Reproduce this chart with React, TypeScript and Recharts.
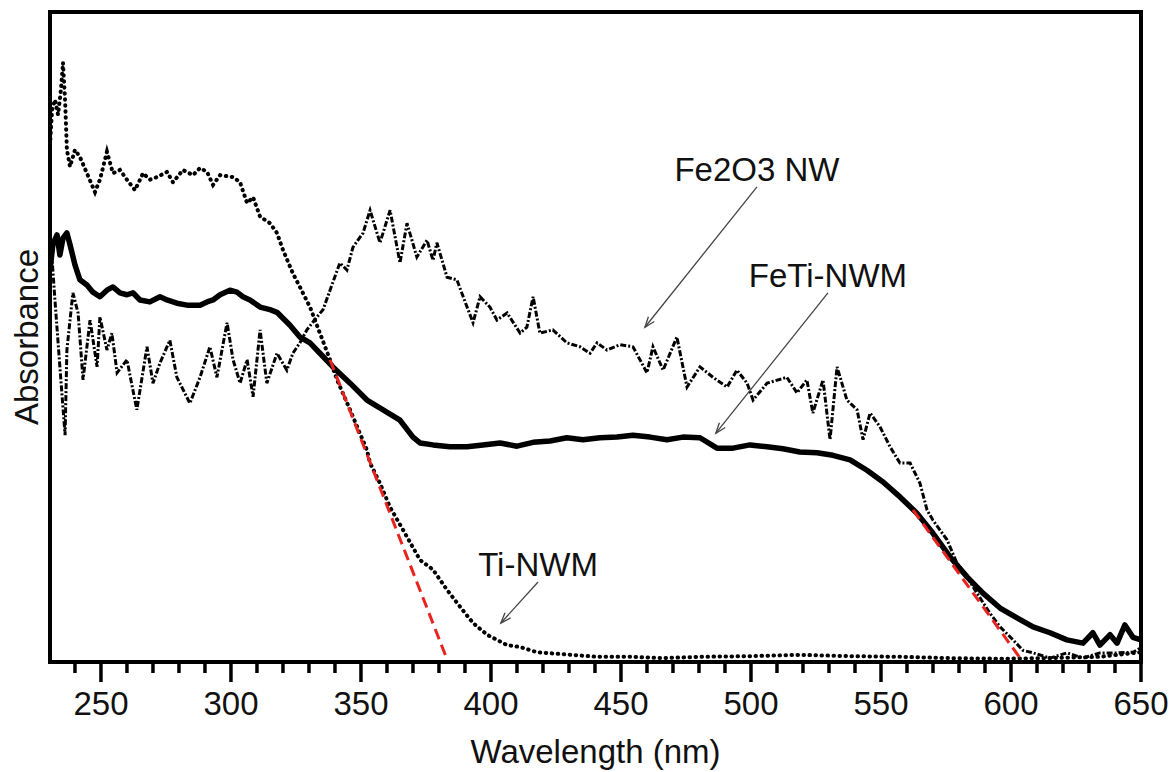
import { LineChart, Line, XAxis, YAxis, ReferenceLine } from "recharts";

const FONT = '"Liberation Sans", Arial, Helvetica, sans-serif';

// [wavelength nm, absorbance a.u.]
const tiNwm: [number, number][] = [
  [230.4, 0.795], [231.2, 0.849], [232.3, 0.865], [233.5, 0.842], [234.6, 0.88], [235.4, 0.922],
  [236.2, 0.865], [236.9, 0.788], [238.1, 0.762], [240, 0.788], [241.9, 0.777], [244.6, 0.752],
  [247.7, 0.723], [249.6, 0.742], [252.3, 0.785], [254.6, 0.752], [257.3, 0.757], [260, 0.742],
  [263.1, 0.726], [266.2, 0.752], [268.8, 0.742], [271.5, 0.746], [275.4, 0.754], [277.7, 0.738],
  [281.5, 0.757], [285.4, 0.749], [288.1, 0.76], [290.8, 0.754], [293.1, 0.734], [295.8, 0.749],
  [300.8, 0.746], [303.5, 0.738], [306.2, 0.706], [308.5, 0.715], [311.2, 0.685], [315, 0.675],
  [317.7, 0.66], [320, 0.634], [323.8, 0.598], [326.5, 0.577], [330.4, 0.546], [334.2, 0.506],
  [338.1, 0.465], [340.8, 0.434], [345.8, 0.388], [352.3, 0.326], [353.5, 0.306], [357.3, 0.275],
  [361.2, 0.238], [366.2, 0.203], [372.7, 0.157], [377.7, 0.142], [383.1, 0.111], [388.1, 0.085],
  [393.1, 0.06], [398.5, 0.042], [406.2, 0.026], [411.2, 0.023], [417.7, 0.015], [427.7, 0.012],
  [440.8, 0.008], [453.5, 0.008], [466.2, 0.006], [480.4, 0.008], [499.6, 0.009], [518.8, 0.011],
  [538.1, 0.009], [557.3, 0.008], [576.5, 0.006], [595.8, 0.005], [615, 0.006], [634.2, 0.008],
  [650, 0.015],
];

const fe2o3Nw: [number, number][] = [
  [230.4, 0.665], [232.3, 0.557], [234.2, 0.454], [236.2, 0.349], [236.9, 0.48], [239.2, 0.568],
  [241.2, 0.537], [243.1, 0.434], [245.8, 0.526], [248.5, 0.454], [249.6, 0.531], [252.3, 0.48],
  [254.2, 0.506], [256.2, 0.445], [260, 0.465], [262.3, 0.418], [263.8, 0.388], [267.7, 0.485],
  [270, 0.429], [272.7, 0.46], [276.5, 0.495], [279.2, 0.438], [284.2, 0.398], [288.1, 0.438],
  [291.9, 0.485], [294.6, 0.438], [298.5, 0.522], [300.8, 0.465], [303.5, 0.429], [306.2, 0.465],
  [308.5, 0.408], [311.2, 0.511], [313.8, 0.429], [317.7, 0.475], [321.5, 0.449], [323.8, 0.475],
  [326.5, 0.491], [329.2, 0.511], [333.1, 0.531], [335.4, 0.542], [338.1, 0.572], [341.9, 0.614],
  [344.6, 0.603], [346.9, 0.638], [350.8, 0.66], [353.5, 0.695], [357.3, 0.645], [361.2, 0.695],
  [365, 0.614], [367.7, 0.675], [371.5, 0.623], [375.4, 0.649], [377.7, 0.618], [379.2, 0.645],
  [383.1, 0.592], [386.9, 0.588], [390.8, 0.546], [393.1, 0.522], [395.8, 0.562], [399.6, 0.546],
  [402.3, 0.526], [406.2, 0.537], [411.2, 0.506], [413.8, 0.515], [416.2, 0.562], [418.8, 0.506],
  [423.8, 0.511], [429.2, 0.491], [434.2, 0.485], [438.1, 0.475], [440.8, 0.491], [444.6, 0.48],
  [449.6, 0.488], [454.6, 0.485], [457.3, 0.465], [460, 0.445], [462.3, 0.485], [466.2, 0.449],
  [471.5, 0.5], [475.4, 0.423], [480.4, 0.454], [485.4, 0.438], [490.8, 0.423], [494.6, 0.449],
  [498.5, 0.429], [500.8, 0.403], [506.2, 0.429], [513.8, 0.438], [517.7, 0.414], [521.5, 0.434],
  [523.8, 0.383], [527.7, 0.434], [530.4, 0.342], [533.1, 0.454], [536.9, 0.403], [540.8, 0.388],
  [543.1, 0.342], [545.8, 0.383], [549.6, 0.362], [553.5, 0.331], [557.3, 0.306], [561.2, 0.306],
  [565, 0.275], [567.7, 0.234], [570, 0.218], [575.4, 0.188], [579.2, 0.152], [583.1, 0.131],
  [586.9, 0.106], [591.9, 0.075], [595.8, 0.054], [600.8, 0.034], [604.6, 0.018], [608.5, 0.014],
  [615, 0.006], [621.5, 0.014], [627.7, 0.006], [634.2, 0.014], [640.8, 0.014], [646.9, 0.015],
  [650, 0.022],
];

const feTiNwm: [number, number][] = [
  [230.4, 0.603], [231.5, 0.642], [233.1, 0.657], [234.2, 0.626], [235.4, 0.652], [236.9, 0.66],
  [238.1, 0.642], [240, 0.611], [241.9, 0.588], [244.6, 0.58], [246.9, 0.569], [249.6, 0.562],
  [252.3, 0.572], [254.6, 0.577], [257.3, 0.568], [260, 0.565], [262.3, 0.568], [265, 0.557],
  [268.8, 0.554], [272.7, 0.562], [275.4, 0.557], [279.2, 0.552], [283.1, 0.549], [288.1, 0.549],
  [290.8, 0.554], [293.1, 0.557], [295.8, 0.565], [299.6, 0.572], [302.3, 0.569], [304.6, 0.562],
  [307.3, 0.557], [311.2, 0.546], [315, 0.542], [317.7, 0.538], [322.7, 0.518], [326.5, 0.5],
  [330.4, 0.491], [334.2, 0.475], [339.2, 0.454], [345.8, 0.429], [352.3, 0.403], [358.5, 0.388],
  [365, 0.372], [370, 0.346], [372.7, 0.337], [377.7, 0.334], [384.2, 0.331], [390.8, 0.331],
  [396.9, 0.334], [403.5, 0.337], [410, 0.332], [416.2, 0.338], [422.7, 0.34], [429.2, 0.345],
  [435.4, 0.342], [441.9, 0.345], [448.5, 0.346], [454.6, 0.349], [461.2, 0.346], [467.7, 0.342],
  [473.8, 0.346], [480.4, 0.345], [486.9, 0.329], [493.1, 0.329], [499.6, 0.334], [506.2, 0.331],
  [512.3, 0.328], [518.8, 0.323], [525.4, 0.322], [531.5, 0.318], [538.1, 0.311], [544.6, 0.295],
  [550.8, 0.277], [557.3, 0.254], [563.8, 0.229], [570, 0.198], [576.5, 0.162], [583.1, 0.131],
  [589.2, 0.106], [595.8, 0.083], [602.3, 0.068], [608.5, 0.054], [615, 0.045], [621.5, 0.034],
  [627.7, 0.029], [631.5, 0.045], [634.2, 0.026], [638.1, 0.042], [640.8, 0.029], [643.8, 0.057],
  [646.9, 0.038], [650, 0.034],
];

// band-edge tangent lines (red dashed)
const edgeFits: [number, number][][] = [
  [[338.1, 0.465], [383.5, 0]],
  [[562.3, 0.234], [604.6, 0]],
];

// annotation text, arrow start, arrow tip
const notes: { text: string; from: [number, number]; to: [number, number] }[] = [
  { text: "Fe2O3 NW", from: [502.3, 0.731], to: [459.2, 0.515] },
  { text: "FeTi-NWM", from: [529.6, 0.568], to: [486.5, 0.352] },
  { text: "Ti-NWM", from: [418.1, 0.123], to: [403.8, 0.06] },
];

const xTicks = [240, 250, 260, 270, 280, 290, 300, 310, 320, 330, 340, 350, 360, 370, 380, 390, 400,
  410, 420, 430, 440, 450, 460, 470, 480, 490, 500, 510, 520, 530, 540, 550, 560, 570, 580, 590, 600,
  610, 620, 630, 640, 650];
const xDomain: [number, number] = [230.4, 650];

const toRows = (pts: [number, number][]) => pts.map(([w, a]) => ({ w, a }));

function WaveTick({ x, y, payload }: any) {
  const major = payload.value % 50 === 0;
  return (
    <g>
      <line x1={x} y1={y} x2={x} y2={y + (major ? 20 : 11)} stroke="#000" strokeWidth={3.5} />
      {major && (
        <text x={x} y={y + 53} textAnchor="middle" fontSize={33} fill="#111" fontFamily={FONT}>
          {payload.value}
        </text>
      )}
    </g>
  );
}

function Arrow({ x1, y1, x2, y2, text }: any) {
  const ang = Math.atan2(y2 - y1, x2 - x1);
  const len = 11;
  const a1 = ang - 0.35;
  const a2 = ang + 0.35;
  const head = `${x2 - len * Math.cos(a1)},${y2 - len * Math.sin(a1)} ${x2},${y2} ${x2 - len * Math.cos(a2)},${y2 - len * Math.sin(a2)}`;
  return (
    <g>
      <line x1={x1} y1={y1} x2={x2} y2={y2} stroke="#444" strokeWidth={1.3} />
      <polyline points={head} fill="none" stroke="#444" strokeWidth={1.3} />
      <text x={x1} y={y1 - 6} textAnchor="middle" fontSize={33} fill="#111" fontFamily={FONT}>
        {text}
      </text>
    </g>
  );
}

function YTitle({ viewBox }: any) {
  const cx = viewBox.x + viewBox.width - 12;
  const cy = viewBox.y + viewBox.height / 2;
  return (
    <text
      x={cx}
      y={cy}
      transform={`rotate(-90 ${cx} ${cy})`}
      textAnchor="middle"
      fontSize={33}
      fill="#111"
      fontFamily={FONT}
    >
      Absorbance
    </text>
  );
}

const frame = { stroke: "#000", strokeWidth: 4, strokeLinecap: "square" as const };

export default function App() {
  return (
    <div style={{ position: "absolute", left: 0, top: 0, width: 1174, height: 772, background: "#fff" }}>
      <LineChart width={1174} height={772} margin={{ top: 11, right: 32, bottom: 0, left: 49 }}>
        <XAxis
          dataKey="w"
          type="number"
          domain={xDomain}
          ticks={xTicks}
          interval={0}
          allowDataOverflow
          height={110}
          tickSize={0}
          tickMargin={0}
          tickLine={false}
          tick={<WaveTick />}
          axisLine={frame}
          label={{
            value: "Wavelength (nm)",
            position: "insideBottom",
            offset: 9,
            fontSize: 33,
            fill: "#111",
            fontFamily: FONT,
          }}
        />
        <XAxis
          xAxisId="top"
          orientation="top"
          type="number"
          domain={xDomain}
          ticks={xTicks}
          height={1}
          tick={false}
          tickLine={false}
          axisLine={frame}
        />
        <YAxis
          type="number"
          domain={[0, 1]}
          ticks={[0, 1]}
          width={1}
          tick={false}
          tickLine={false}
          axisLine={frame}
          label={<YTitle />}
        />
        <YAxis
          yAxisId="right"
          orientation="right"
          type="number"
          domain={[0, 1]}
          ticks={[0, 1]}
          width={1}
          tick={false}
          tickLine={false}
          axisLine={frame}
        />

        <Line
          data={toRows(tiNwm)}
          dataKey="a"
          name="Ti-NWM"
          stroke="#000"
          strokeWidth={4}
          strokeDasharray="0.5 5.5"
          strokeLinecap="round"
          dot={false}
          activeDot={false}
          isAnimationActive={false}
        />
        <Line
          data={toRows(fe2o3Nw)}
          dataKey="a"
          name="Fe2O3 NW"
          stroke="#000"
          strokeWidth={3}
          strokeDasharray="6 2 2 2"
          dot={false}
          activeDot={false}
          isAnimationActive={false}
        />
        <Line
          data={toRows(feTiNwm)}
          dataKey="a"
          name="FeTi-NWM"
          stroke="#000"
          strokeWidth={5.5}
          strokeLinejoin="round"
          dot={false}
          activeDot={false}
          isAnimationActive={false}
        />

        {edgeFits.map(([p, q], i) => (
          <ReferenceLine
            key={`fit-${i}`}
            segment={[{ x: p[0], y: p[1] }, { x: q[0], y: q[1] }]}
            stroke="#e8231f"
            strokeWidth={3}
            strokeDasharray="11 6"
          />
        ))}
        {notes.map((n) => (
          <ReferenceLine
            key={n.text}
            segment={[{ x: n.from[0], y: n.from[1] }, { x: n.to[0], y: n.to[1] }]}
            shape={(p: any) => <Arrow {...p} text={n.text} />}
          />
        ))}
      </LineChart>
    </div>
  );
}
